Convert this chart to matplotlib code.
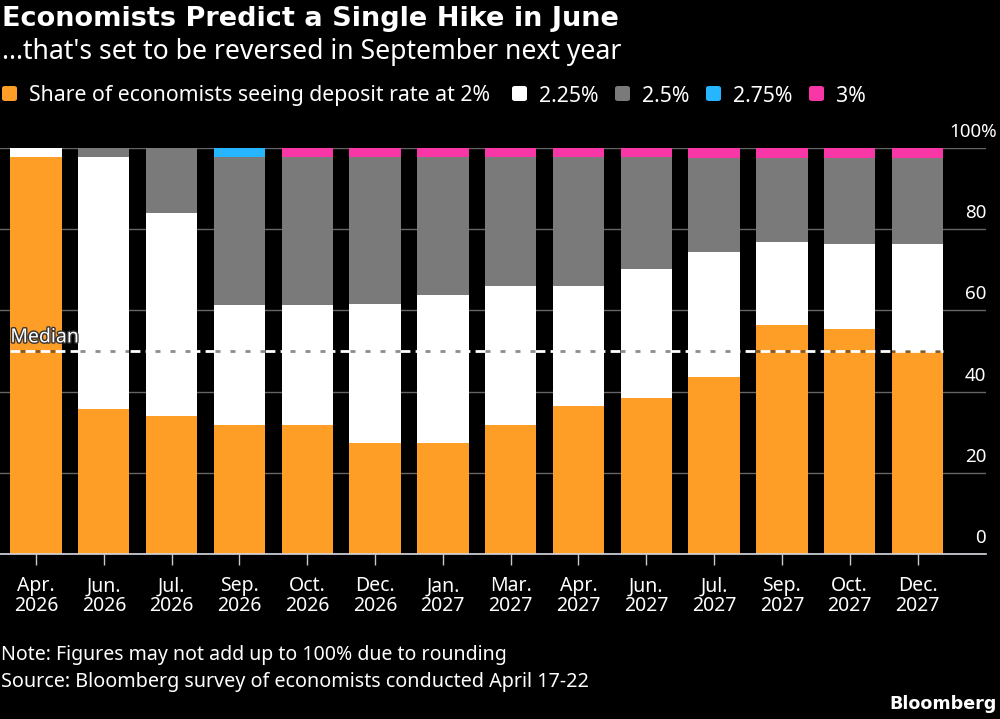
import matplotlib
matplotlib.use("Agg")
import matplotlib.pyplot as plt
import matplotlib.patheffects as pe
from matplotlib.patches import FancyBboxPatch
import numpy as np

# shares of economists per rate
months = ["Apr.\n2026", "Jun.\n2026", "Jul.\n2026", "Sep.\n2026", "Oct.\n2026", "Dec.\n2026", "Jan.\n2027",
          "Mar.\n2027", "Apr.\n2027", "Jun.\n2027", "Jul.\n2027", "Sep.\n2027", "Oct.\n2027", "Dec.\n2027"]
rate_2 = [97.8, 35.6, 34.1, 31.8, 31.8, 27.3, 27.3, 31.8, 36.4, 38.4, 43.6, 56.4, 55.3, 50.0]
rate_225 = [2.2, 62.2, 50.0, 29.5, 29.5, 34.3, 36.4, 34.1, 29.5, 31.9, 30.8, 20.4, 21.0, 26.3]
rate_25 = [0, 2.2, 15.9, 36.4, 36.4, 36.2, 34.1, 31.9, 31.9, 27.5, 23.2, 20.7, 21.3, 21.2]
rate_275 = [0, 0, 0, 2.3, 0, 0, 0, 0, 0, 0, 0, 0, 0, 0]
rate_3 = [0, 0, 0, 0, 2.3, 2.2, 2.2, 2.2, 2.2, 2.2, 2.4, 2.5, 2.4, 2.5]
median = 50
yticks = [0, 20, 40, 60, 80, 100]
ylabels = ["0", "20", "40", "60", "80", "100%"]

series = [rate_2, rate_225, rate_25, rate_275, rate_3]
colors = ["#FF9E27", "#FFFFFF", "#7A7A7A", "#26B6FF", "#F936A6"]
legend_labels = ["Share of economists seeing deposit rate at 2%", "2.25%", "2.5%", "2.75%", "3%"]
legend_x = [2, 512, 615, 706, 809]
legend_text_x = [29, 539, 642, 733, 836]

plt.rcParams["font.family"] = ["Noto Sans", "DejaVu Sans"]
plt.rcParams["lines.scale_dashes"] = False

W, H = 1000, 719
fig = plt.figure(figsize=(W / 100, H / 100), dpi=100, facecolor="black")
ax = fig.add_axes([0, 1 - 554 / H, 986 / W, (554 - 148) / H], facecolor="black")

x = np.arange(len(months))
bar_w = 0.757
bottom = np.zeros(len(months))
for vals, c in zip(series, colors):
    ax.bar(x, vals, bar_w, bottom=bottom, color=c, linewidth=0, zorder=2)
    bottom = bottom + np.array(vals)

ax.set_xlim(-0.531, 14.01)
ax.set_ylim(0, 100)
ax.set_yticks(yticks)
ax.set_yticklabels([])
ax.yaxis.grid(True, color="#666666", linewidth=1, zorder=1)
ax.set_axisbelow(True)
ax.tick_params(axis="y", length=0)
ax.set_xticks(x)
ax.set_xticklabels(months, color="white", fontsize=14, linespacing=0.98)
ax.tick_params(axis="x", length=8, width=1, color="#C8C8D0", pad=8)
for s in ["top", "left", "right"]:
    ax.spines[s].set_visible(False)
ax.spines["bottom"].set_color("#D8D8E0")
ax.spines["bottom"].set_linewidth(1.2)
ax.spines["bottom"].set_zorder(4)

# y labels sit above their gridlines at the right edge
for v, lab in zip(yticks, ylabels):
    ax.annotate(lab, (14.01, v), xytext=(0 if lab != "100%" else 8, 11.5), textcoords="offset points",
                ha="right", va="center", color="white", fontsize=13.5, annotation_clip=False)

# median line: white dashes, darker dashes in the gaps
x0, x1 = x[0] - bar_w / 2, x[-1] + bar_w / 2
ax.plot([x0, x1], [median, median], color="white", lw=2, linestyle=(0, (7.2, 3.6)), zorder=5, dash_capstyle="butt")
ax.plot([x0, x1], [median, median], color="black", alpha=0.45, lw=2, linestyle=(3.6, (3.6, 7.2)), zorder=5,
        dash_capstyle="butt")
ax.text(x0, median + 0.9, "Median", color="white", fontsize=14, va="bottom", ha="left", zorder=6,
        path_effects=[pe.withStroke(linewidth=2, foreground="#333333")])

# header
fig.text(2 / W, 1 - 19 / H, "Economists Predict a Single Hike in June", color="white", fontsize=19.5,
         family="DejaVu Sans", fontweight="bold", va="center", ha="left")
fig.text(2 / W, 1 - 52 / H, "...that's set to be reversed in September next year", color="white", fontsize=19.15,
         va="center", ha="left")

# legend
for lx, tx, c, lab in zip(legend_x, legend_text_x, colors, legend_labels):
    fig.add_artist(FancyBboxPatch((lx / W, 1 - 101 / H), 15 / W, 15 / H, boxstyle="round,pad=0,rounding_size=0.003",
                                  transform=fig.transFigure, facecolor=c, edgecolor="none"))
    fig.text(tx / W, 1 - 96 / H, lab, color="white", fontsize=15.3, va="center", ha="left")

# footer
fig.text(1 / W, 1 - 655 / H, "Note: Figures may not add up to 100% due to rounding", color="white", fontsize=14.05,
         va="center", ha="left")
fig.text(1 / W, 1 - 682 / H, "Source: Bloomberg survey of economists conducted April 17-22", color="white",
         fontsize=14.25, va="center", ha="left")
fig.text(997 / W, 1 - 704 / H, "Bloomberg", color="white", fontsize=12.6, family="DejaVu Sans", fontweight="bold",
         va="center", ha="right")

fig.savefig("out.png", dpi=100, facecolor="black")
